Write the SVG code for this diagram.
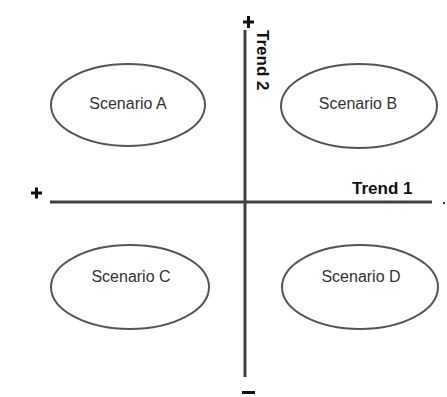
<svg xmlns="http://www.w3.org/2000/svg" width="447" height="397" viewBox="0 0 447 397">
<style>
.ell{fill:#fff;stroke:#555;stroke-width:2}
.lbl{font-family:"Liberation Sans",Arial,sans-serif;font-size:16px;fill:#333;text-anchor:middle}
.trend{font-family:"Liberation Sans",Arial,sans-serif;font-size:17px;font-weight:bold;fill:#111}
.axis{stroke:#404040;stroke-width:3;fill:none}
.sign{stroke:#111;stroke-width:3;fill:none}
</style>
<rect width="447" height="397" fill="#fff"/>
<g id="connectors">
<line class="axis" x1="245" y1="30" x2="245" y2="377"/>
<line class="axis" x1="50" y1="202" x2="432" y2="202"/>
<path class="sign" d="M243 22H254M248.5 16V28"/>
<path class="sign" d="M31 193H42M36.5 187.5V198.5"/>
<path class="sign" d="M242 392.5H255"/>
<circle cx="444" cy="203" r="1.2" fill="#333"/>
<text class="trend" x="352" y="194">Trend 1</text>
<text class="trend" transform="translate(257,30) rotate(90)">Trend 2</text>
</g>
<g id="scenarioA">
<ellipse class="ell" cx="128" cy="105" rx="77" ry="41"/>
<text class="lbl" x="128" y="109">Scenario A</text>
</g>
<g id="scenarioB">
<ellipse class="ell" cx="359" cy="106" rx="78" ry="42"/>
<text class="lbl" x="358" y="109">Scenario B</text>
</g>
<g id="scenarioC">
<ellipse class="ell" cx="130" cy="287" rx="79" ry="42"/>
<text class="lbl" x="131" y="282">Scenario C</text>
</g>
<g id="scenarioD">
<ellipse class="ell" cx="360" cy="287" rx="78" ry="42"/>
<text class="lbl" x="361" y="282">Scenario D</text>
</g>
</svg>
